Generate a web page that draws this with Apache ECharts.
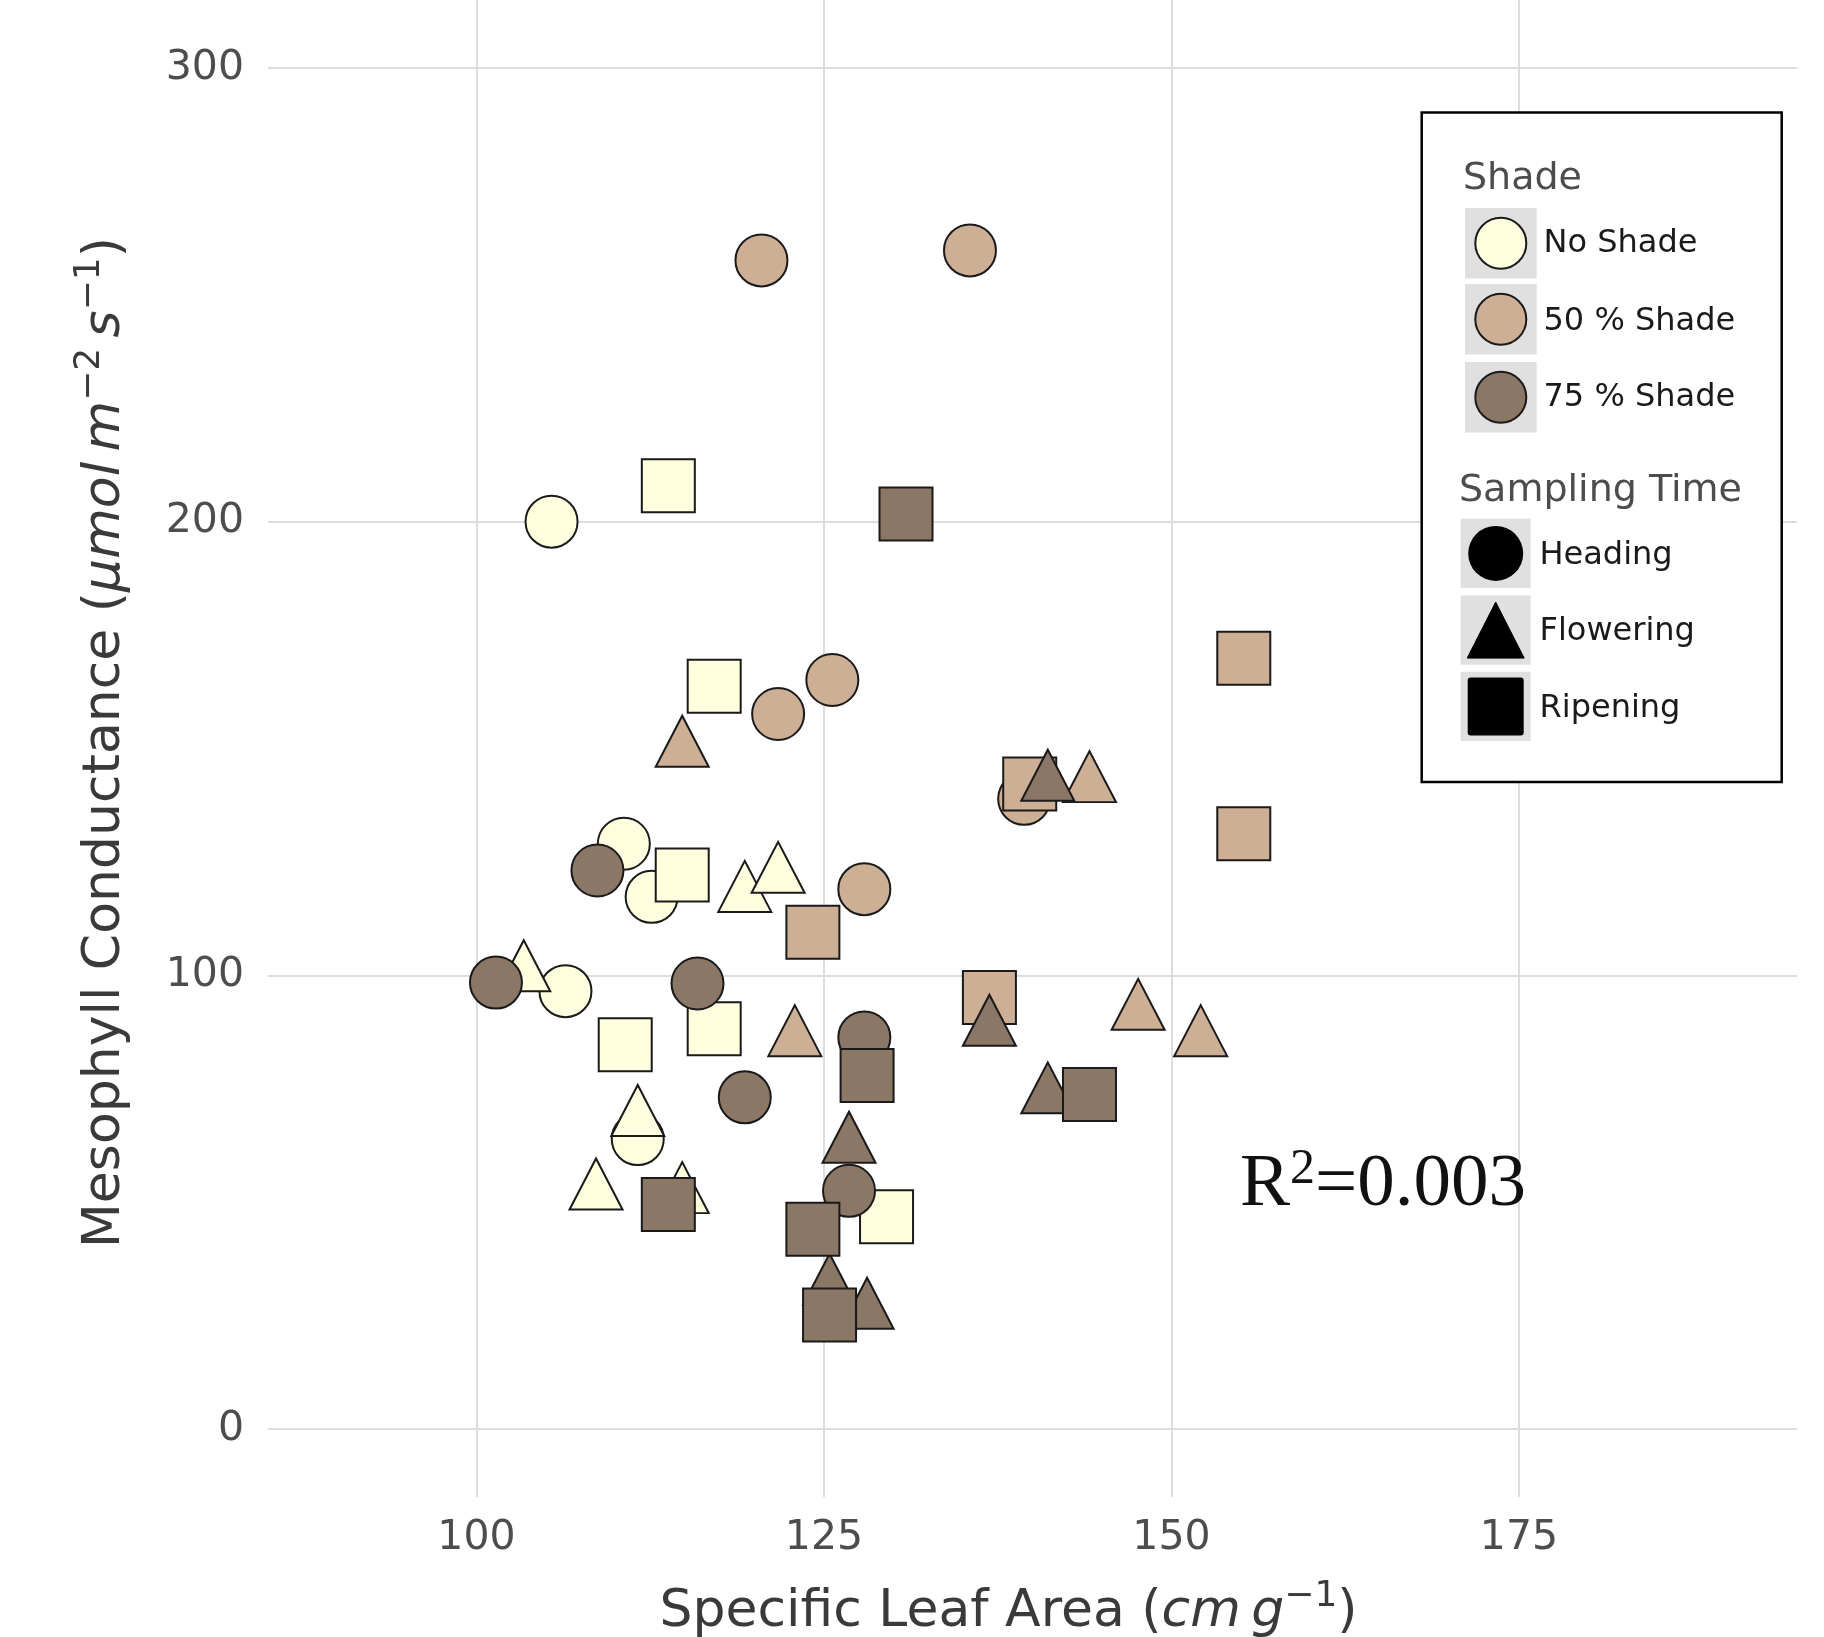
<!DOCTYPE html>
<html>
<head>
<meta charset="utf-8">
<script src="https://cdn.jsdelivr.net/npm/echarts@6/dist/echarts.min.js"></script>
<style>
html,body{margin:0;padding:0;background:#ffffff;}
#chart{width:1824px;height:1637px;}
</style>
</head>
<body>
<div id="chart"></div>
<script>
// ---- data (x = Specific Leaf Area, y = Mesophyll Conductance) ----
const shadeNames = ['No Shade', '50 % Shade', '75 % Shade'];
const timeNames = ['Heading', 'Flowering', 'Ripening'];
const shadeColors = ['#FFFFE0', '#CDAF95', '#8B7765'];
const xTicks = [100, 125, 150, 175];
const yTicks = [0, 100, 200, 300];
const r2Text = '=0.003';

const noShadeHeading   = [[105.4,200.0],[110.6,129.0],[112.6,117.3],[106.4,96.5],[111.6,63.9]];
const noShadeFlowering = [[103.4,102.1],[111.6,70.2],[108.6,54.0],[114.8,53.2],[119.3,119.6],[121.7,123.8]];
const noShadeRipening  = [[113.8,207.9],[117.1,163.7],[114.8,122.1],[110.7,84.7],[117.1,88.2],[129.5,46.8]];
const shade50Heading   = [[120.5,257.6],[135.5,259.8],[125.6,165.1],[121.7,157.6],[127.9,119.0],[139.4,138.9]];
const shade50Flowering = [[114.8,151.6],[122.9,87.8],[144.1,143.8],[147.6,93.6],[152.1,87.8]];
const shade50Ripening  = [[124.2,109.5],[155.2,169.9],[155.2,131.2],[139.8,142.2],[136.9,95.1]];
const shade75Heading   = [[108.7,123.1],[101.4,98.4],[115.9,98.2],[119.3,73.1],[127.9,86.3],[126.8,52.5]];
const shade75Flowering = [[141.1,144.1],[136.9,90.1],[141.1,75.2],[126.8,64.3],[125.4,33.0],[128.1,27.7]];
const shade75Ripening  = [[130.9,201.7],[128.1,77.9],[144.1,73.7],[113.8,49.5],[124.2,44.0],[125.4,25.1]];

const groups = [
  [noShadeHeading, noShadeFlowering, noShadeRipening],
  [shade50Heading, shade50Flowering, shade50Ripening],
  [shade75Heading, shade75Flowering, shade75Ripening]
];

// ---- styling ----
const FONT = '"DejaVu Sans", "Noto Sans", sans-serif';
const symbols = ['circle', 'triangle', 'rect'];
const symbolSizes = [52, [53, 51], 53];
const stroke = '#1a1a1a';

const series = [];
groups.forEach((g, si) => {
  g.forEach((pts, ti) => {
    series.push({
      name: shadeNames[si] + ' - ' + timeNames[ti],
      type: 'scatter',
      data: pts,
      symbol: symbols[ti],
      symbolSize: symbolSizes[ti],
      itemStyle: { color: shadeColors[si], borderColor: stroke, borderWidth: 2, opacity: 1 },
      emphasis: { disabled: true },
      z: 2
    });
  });
});

// ---- legend drawn with graphic elements ----
const gfx = [];
const LBX = 1421.7, LBY = 112.5, LBW = 360, LBH = 669.5;
gfx.push({ type: 'rect', shape: { x: LBX, y: LBY, width: LBW, height: LBH },
  style: { fill: '#ffffff', stroke: '#000000', lineWidth: 2.5 }, z: 20 });
function txt(x, y, text, size, color) {
  return { type: 'text', x: x, y: y, z: 21,
    style: { text: text, fill: color, font: size + 'px ' + FONT,
      align: 'left', verticalAlign: 'middle', textAlign: 'left', textVerticalAlign: 'middle' } };
}
gfx.push(txt(1463, 179.5, 'Shade', 38, '#4D4D4D'));
const shadeKeyY = [243.3, 319.2, 397.3];
const shadeLabelY = [244, 321.5, 398];
shadeNames.forEach((n, i) => {
  gfx.push({ type: 'rect', z: 21, shape: { x: 1465, y: shadeKeyY[i] - 35.3, width: 71.7, height: 70.6 },
    style: { fill: '#E0E0E0' } });
  gfx.push({ type: 'circle', z: 22, shape: { cx: 1500.8, cy: shadeKeyY[i], r: 25.5 },
    style: { fill: shadeColors[i], stroke: stroke, lineWidth: 2 } });
  gfx.push(txt(1543.5, shadeLabelY[i], n, 32, '#1A1A1A'));
});
gfx.push(txt(1459, 491, 'Sampling Time', 38, '#4D4D4D'));
const timeKeyY = [553.4, 630.1, 706.5];
timeNames.forEach((n, i) => {
  const cy = timeKeyY[i], cx = 1495.7;
  gfx.push({ type: 'rect', z: 21, shape: { x: 1460.7, y: cy - 34.7, width: 70, height: 69.3 },
    style: { fill: '#E0E0E0' } });
  if (i === 0) {
    gfx.push({ type: 'circle', z: 22, shape: { cx: cx, cy: cy, r: 27.5 }, style: { fill: '#000' } });
  } else if (i === 1) {
    gfx.push({ type: 'polygon', z: 22, shape: { points: [[cx, cy - 28], [cx + 28.5, cy + 28], [cx - 28.5, cy + 28]] },
      style: { fill: '#000', stroke: '#000', lineWidth: 1, lineJoin: 'round' } });
  } else {
    gfx.push({ type: 'rect', z: 22, shape: { x: cx - 28, y: cy - 29, width: 56, height: 58, r: 3 }, style: { fill: '#000' } });
  }
  gfx.push(txt(1539.5, cy + 2, n, 32, '#1A1A1A'));
});

// R^2 annotation
gfx.push({ type: 'text', x: 1240, y: 1185, z: 21,
  style: { text: '{m|R}{s|2}{m|' + r2Text + '}',
    rich: {
      m: { fontFamily: '"Liberation Serif", "Times New Roman", serif', fontSize: 75, lineHeight: 80, fill: '#111', color: '#111' },
      s: { fontFamily: '"Liberation Serif", "Times New Roman", serif', fontSize: 50, verticalAlign: 'top', fill: '#111', color: '#111' }
    },
    align: 'left', verticalAlign: 'middle', textAlign: 'left', textVerticalAlign: 'middle' } });

const nameRich = {
  n: { fontFamily: FONT, fontSize: 52, lineHeight: 66, color: '#3A3A3A' },
  i: { fontFamily: FONT, fontSize: 52, lineHeight: 66, fontStyle: 'italic', color: '#3A3A3A' },
  s: { fontFamily: FONT, fontSize: 36, verticalAlign: 'top', color: '#3A3A3A' }
};

const chart = echarts.init(document.getElementById('chart'), null, { renderer: 'canvas' });
chart.setOption({
  animation: false,
  backgroundColor: '#ffffff',
  grid: { left: 268, right: 27, top: 0, bottom: 140, containLabel: false, outerBoundsMode: 'none' },
  xAxis: {
    type: 'value', min: 85, max: 195,
    name: '{n|Specific Leaf Area (}{i|cm\u2009g}{s|\u22121}{n|)}',
    nameLocation: 'middle', nameGap: 82,
    nameTextStyle: { rich: nameRich, padding: [0, 48, 0, 0] },
    axisLine: { show: false },
    axisTick: { show: false, customValues: xTicks },
    axisLabel: { customValues: xTicks, fontFamily: FONT, fontSize: 41, color: '#4D4D4D', margin: 21 },
    splitLine: { show: true, lineStyle: { color: '#DDDDDD', width: 2 } }
  },
  yAxis: {
    type: 'value', min: -15, max: 315,
    name: '{n|Mesophyll Conductance (}{i|\u03bcmol\u2009m}{s|\u22122}{i|\u2009s}{s|\u22121}{n|)}',
    nameLocation: 'middle', nameGap: 130, nameRotate: 90,
    nameTextStyle: { rich: nameRich, padding: [0, 0, 0, 12] },
    axisLine: { show: false },
    axisTick: { show: false, customValues: yTicks },
    axisLabel: { customValues: yTicks, fontFamily: FONT, fontSize: 41, color: '#4D4D4D', margin: 24 },
    splitLine: { show: true, lineStyle: { color: '#DDDDDD', width: 2 } }
  },
  graphic: gfx,
  series: series
});
</script>
</body>
</html>
